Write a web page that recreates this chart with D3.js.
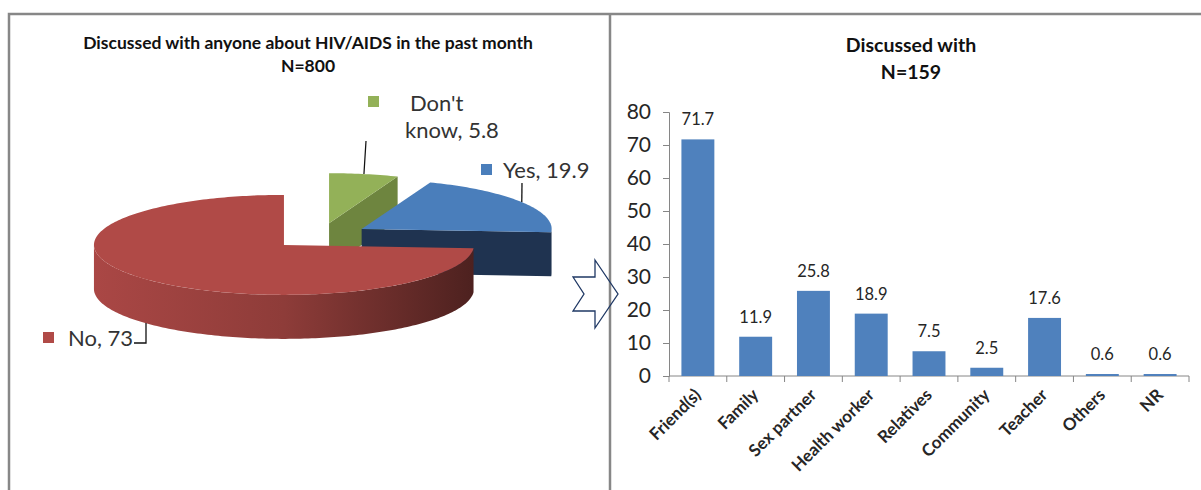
<!DOCTYPE html>
<html><head><meta charset="utf-8">
<script src="https://cdn.jsdelivr.net/npm/d3@7"></script>
<style>
html,body{margin:0;padding:0;background:#fff;}
svg{display:block;font-family:Lato,"Open Sans",sans-serif;}
</style></head><body>
<svg id="chart" width="1201" height="490"></svg>
<script>
// Left panel: discussed HIV/AIDS with anyone in the past month (N=800)
const pieCategories = ["Don't know", "Yes", "No"];
const pieValues = [5.8, 19.9, 73];
const pieColors = ["#93B158", "#4A7EBB", "#B04A47"];
const pieSideColors = ["#6E853F", "#1F3350", "#8F3C3A"];

// Right panel: who they discussed it with (N=159)
const barCategories = ["Friend(s)", "Family", "Sex partner", "Health worker", "Relatives", "Community", "Teacher", "Others", "NR"];
const barValues = [71.7, 11.9, 25.8, 18.9, 7.5, 2.5, 17.6, 0.6, 0.6];
const yTickValues = [0, 10, 20, 30, 40, 50, 60, 70, 80];

const svg = d3.select("#chart");
const defs = svg.append("defs");
const ink = "#262626";

// ---- panel frame ----
const frame = svg.append("g").attr("stroke", "#878787").attr("stroke-width", 2.5).attr("fill", "none");
frame.append("path").attr("d", "M9,490V14H1201");
frame.append("path").attr("d", "M610,14V490");

// ---- pie titles ----
const pieTitle = svg.append("text").attr("text-anchor", "middle").attr("font-weight", 700)
  .attr("font-size", 17.5).attr("fill", "#111");
pieTitle.append("tspan").attr("x", 308).attr("y", 49).text("Discussed with anyone about HIV/AIDS in the past month");
pieTitle.append("tspan").attr("x", 308).attr("y", 72).text("N=800");

// ---- 3D exploded pie ----
const P = {cx: 320, cy: 236, rx: 190, ry: 50, depth: 44, explode: 0.26};
const arcs = d3.pie().sort(null).value(d => d)(pieValues);
const rim = (o, t, dz = 0) => [o[0] + P.rx * Math.sin(t), o[1] - P.ry * Math.cos(t) + dz];
const sweep = (a0, a1) => {
  const n = Math.max(2, Math.ceil(Math.abs(a1 - a0) / 0.02));
  return d3.range(n + 1).map(k => a0 + (a1 - a0) * k / n);
};
const closed = pts => d3.line()(pts) + "Z";

const slices = arcs.map((a, i) => {
  const mid = (a.startAngle + a.endAngle) / 2;
  const o = [P.cx + P.explode * P.rx * Math.sin(mid), P.cy - P.explode * P.ry * Math.cos(mid)];
  return {a0: a.startAngle, a1: a.endAngle, i, mid, o};
});
const drawOrder = slices.slice().sort((p, q) => -Math.cos(p.mid) + Math.cos(q.mid));

const pieG = svg.append("g");
drawOrder.forEach(s => {
  const g = pieG.append("g");
  const base = d3.color(pieColors[s.i]);
  // radial cut faces facing the viewer
  [[s.a0, s.a0 - Math.PI / 2], [s.a1, s.a1 + Math.PI / 2]].forEach(([t, nrm]) => {
    if (Math.cos(nrm) < -1e-6) {
      const top = rim(s.o, t);
      g.append("path")
        .attr("d", closed([s.o, top, [top[0], top[1] + P.depth], [s.o[0], s.o[1] + P.depth]]))
        .attr("fill", pieSideColors[s.i]);
    }
  });
  // outer wall on the front half
  const w0 = Math.max(s.a0, Math.PI / 2), w1 = Math.min(s.a1, 3 * Math.PI / 2);
  if (w1 > w0) {
    const gid = "wall" + s.i;
    const lg = defs.append("linearGradient").attr("id", gid).attr("x1", 0).attr("x2", 1).attr("y1", 0).attr("y2", 0);
    lg.append("stop").attr("offset", 0).attr("stop-color", base.darker(0.1));
    lg.append("stop").attr("offset", 0.5).attr("stop-color", base.darker(0.6));
    lg.append("stop").attr("offset", 1).attr("stop-color", base.darker(2.3));
    const topArc = sweep(w1, w0).map(t => rim(s.o, t));
    const botArc = sweep(w0, w1).map(t => rim(s.o, t, P.depth));
    g.append("path").attr("d", closed(topArc.concat(botArc)))
      .attr("fill", (w1 - w0) > 0.5 ? `url(#${gid})` : pieSideColors[s.i]);
  }
  // top face
  g.append("path").attr("d", closed([s.o].concat(sweep(s.a0, s.a1).map(t => rim(s.o, t)))))
    .attr("fill", pieColors[s.i]);
});

// pie data labels with legend keys and leader lines
const pieLabelLayout = {
  "Don't know": {key: [368, 96], lines: [[410, 111], [405, 138]], leader: [[366, 141]]},
  "Yes": {key: [481, 164], lines: [[503, 178]], leader: [[522, 183]]},
  "No": {key: [43, 332], lines: [[68, 346]], leader: [[134, 343], [146, 343]]}
};
const pieLabels = svg.append("g").attr("font-size", 22).attr("fill", "#333");
slices.forEach(s => {
  const L = pieLabelLayout[pieCategories[s.i]];
  const label = `${pieCategories[s.i]}, ${pieValues[s.i]}`;
  const words = label.split(" ");
  const rows = L.lines.length > 1 ? [words.slice(0, 1).join(" "), words.slice(1).join(" ")] : [label];
  pieLabels.append("rect").attr("x", L.key[0]).attr("y", L.key[1]).attr("width", 11).attr("height", 11)
    .attr("fill", pieColors[s.i]);
  rows.forEach((r, k) => pieLabels.append("text").attr("x", L.lines[k][0]).attr("y", L.lines[k][1]).text(r));
  const front = Math.cos(s.mid) < 0;
  const end = rim(s.o, s.mid, front ? P.depth : 0);
  const pts = L.leader.concat([[L.leader[L.leader.length - 1][0], end[1]]]);
  if (L.leader.length === 1) pts[1] = end;
  pieLabels.append("path").attr("d", d3.line()(pts)).attr("fill", "none").attr("stroke", "#111").attr("stroke-width", 1.3);
});

// ---- arrow between panels ----
svg.append("path")
  .attr("d", "M573,277L595,277L595,260L618,294L595,328L595,311L573,311L584,294Z")
  .attr("fill", "none").attr("stroke", "#1F3864").attr("stroke-width", 1.3);

// ---- bar chart ----
const barTitle = svg.append("text").attr("text-anchor", "middle").attr("font-weight", 700)
  .attr("font-size", 19.5).attr("fill", "#111");
barTitle.append("tspan").attr("x", 911).attr("y", 52).text("Discussed with");
barTitle.append("tspan").attr("x", 911).attr("y", 79).text("N=159");

const x = d3.scaleBand().domain(barCategories).range([669, 1189]).paddingInner(0.43).paddingOuter(0.215);
const y = d3.scaleLinear().domain([0, 80]).range([376, 112]);

const yAxis = svg.append("g").attr("transform", "translate(669,0)")
  .call(d3.axisLeft(y).tickValues(yTickValues).tickSize(6).tickPadding(12).tickFormat(d3.format("d")));
yAxis.selectAll("path,line").attr("stroke", "#868686");
yAxis.selectAll("text").attr("font-size", 21).attr("fill", ink).attr("font-family", "Lato,sans-serif");

const xAxisG = svg.append("g").attr("transform", "translate(0,376)");
xAxisG.append("path").attr("d", `M${x.range()[0]},0H${x.range()[1]}`).attr("stroke", "#868686");
xAxisG.selectAll("line.tick").data(d3.range(barCategories.length + 1)).join("line")
  .attr("x1", k => x.range()[0] + k * x.step()).attr("x2", k => x.range()[0] + k * x.step())
  .attr("y1", 0).attr("y2", 6).attr("stroke", "#868686");

svg.append("g").selectAll("rect").data(barValues).join("rect")
  .attr("x", (d, i) => x(barCategories[i])).attr("width", x.bandwidth())
  .attr("y", d => y(d)).attr("height", d => y(0) - y(d))
  .attr("fill", "#4F81BD");

svg.append("g").selectAll("text").data(barValues).join("text")
  .attr("x", (d, i) => x(barCategories[i]) + x.bandwidth() / 2).attr("y", d => y(d) - 14)
  .attr("text-anchor", "middle").attr("font-size", 16.5).attr("fill", ink).text(d => d);

svg.append("g").selectAll("text").data(barCategories).join("text")
  .attr("transform", d => `translate(${x(d) + x.bandwidth() / 2 + 4},396) rotate(-45)`)
  .attr("text-anchor", "end").attr("font-size", 17).attr("font-weight", 700).attr("fill", ink).text(d => d);
</script>
</body></html>
